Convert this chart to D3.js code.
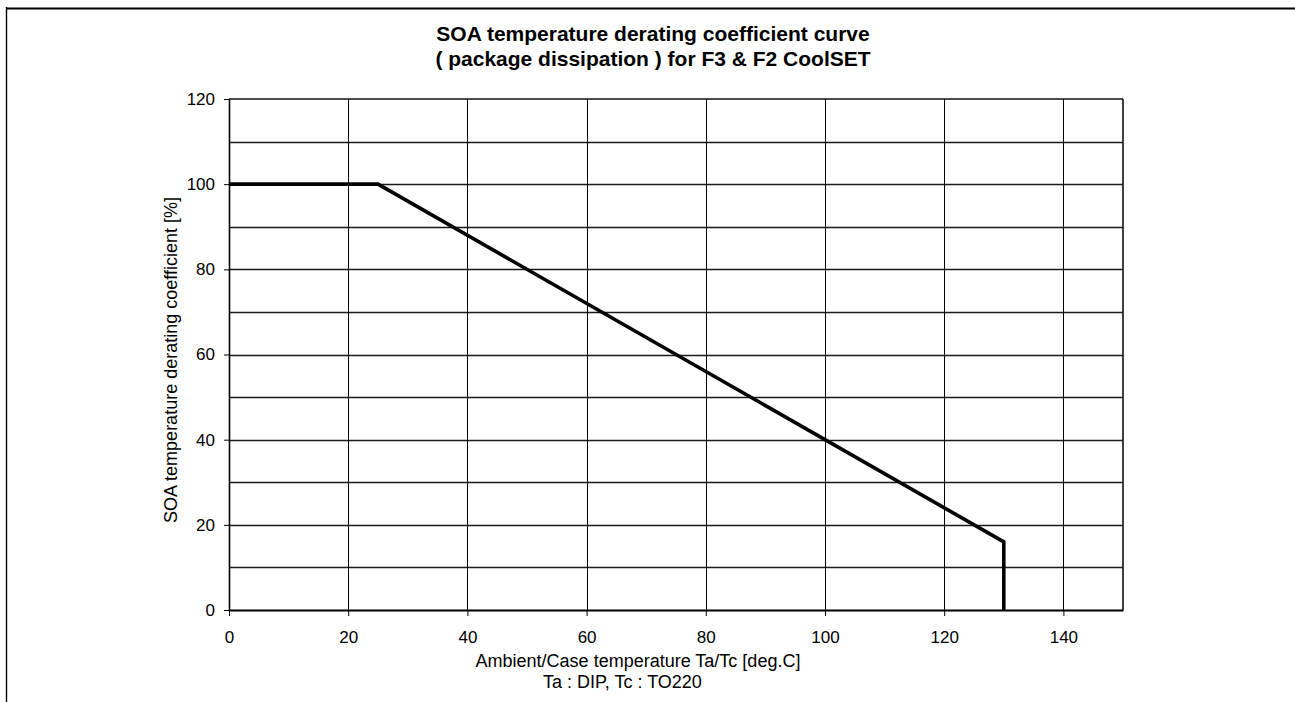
<!DOCTYPE html>
<html><head><meta charset="utf-8">
<script src="https://cdn.jsdelivr.net/npm/d3@7"></script>
<style>
body{margin:0;background:#fff}
svg{display:block}
text{font-family:Arial,"Liberation Sans",sans-serif;fill:#000}
</style>
</head><body>
<svg id="c" width="1295" height="702"></svg>
<script>
const titleLines = ["SOA temperature derating coefficient curve", "( package dissipation ) for F3 & F2 CoolSET"];
const xTitleLines = ["Ambient/Case temperature Ta/Tc [deg.C]", "Ta : DIP, Tc : TO220"];
const yTitle = "SOA temperature derating coefficient [%]";
const temperature = [0, 25, 130, 130];
const coefficient = [100, 100, 16, 0];
const xTicks = [0, 20, 40, 60, 80, 100, 120, 140];
const yTicks = [0, 20, 40, 60, 80, 100, 120];
const yGridValues = [10, 20, 30, 40, 50, 60, 70, 80, 90, 100, 110];
const xGridValues = [20, 40, 60, 80, 100, 120, 140];
const xDomain = [0, 150];
const yDomain = [0, 120];

const svg = d3.select("#c");
const L = 229, R = 1123, T = 99, B = 610;
const x = d3.scaleLinear().domain(xDomain).range([L, R]);
const y = d3.scaleLinear().domain(yDomain).range([B, T]);

// outer frame
svg.append("line").attr("x1", 6).attr("x2", 1295).attr("y1", 8.5).attr("y2", 8.5)
  .attr("stroke", "#000").attr("stroke-width", 2);
svg.append("line").attr("x1", 6.5).attr("x2", 6.5).attr("y1", 7).attr("y2", 702)
  .attr("stroke", "#000").attr("stroke-width", 1.4);

// title
svg.append("g").selectAll("text").data(titleLines).join("text")
  .attr("x", 653).attr("y", (d, i) => 41 + i * 25)
  .attr("text-anchor", "middle").attr("font-weight", "bold").attr("font-size", 21)
  .text(d => d);

// grid
svg.append("g").selectAll("line").data(yGridValues).join("line")
  .attr("x1", L).attr("x2", R).attr("y1", d => Math.round(y(d)) + 0.5).attr("y2", d => Math.round(y(d)) + 0.5)
  .attr("stroke", "#1a1a1a").attr("stroke-width", 1.4);
svg.append("g").selectAll("line").data(xGridValues).join("line")
  .attr("y1", T).attr("y2", B).attr("x1", d => Math.round(x(d)) + 0.5).attr("x2", d => Math.round(x(d)) + 0.5)
  .attr("stroke", "#000").attr("stroke-width", 1);

// plot border top / right
svg.append("line").attr("x1", L).attr("x2", R).attr("y1", T).attr("y2", T).attr("stroke", "#111").attr("stroke-width", 1.6);
svg.append("line").attr("x1", R).attr("x2", R).attr("y1", T).attr("y2", B).attr("stroke", "#111").attr("stroke-width", 1.6);

// axes
const xAxis = svg.append("g").attr("transform", `translate(0,${B})`)
  .call(d3.axisBottom(x).tickValues(xTicks).tickSize(6).tickPadding(15).tickSizeOuter(0).tickFormat(d3.format("d")));
xAxis.select(".domain").attr("stroke", "#000").attr("stroke-width", 2);
xAxis.selectAll(".tick line").attr("stroke", "#000").attr("stroke-width", 1);
xAxis.selectAll("text").attr("font-size", 17).attr("font-family", "Arial, 'Liberation Sans', sans-serif").attr("fill", "#000");

const yAxis = svg.append("g").attr("transform", `translate(${L},0)`)
  .call(d3.axisLeft(y).tickValues(yTicks).tickSize(5).tickPadding(9).tickSizeOuter(0).tickFormat(d3.format("d")));
yAxis.select(".domain").attr("stroke", "#000").attr("stroke-width", 1.6);
yAxis.selectAll(".tick line").attr("stroke", "#000").attr("stroke-width", 1);
yAxis.selectAll("text").attr("font-size", 17).attr("font-family", "Arial, 'Liberation Sans', sans-serif").attr("fill", "#000");

// curve
const pts = temperature.map((t, i) => [t, coefficient[i]]);
svg.append("path").datum(pts)
  .attr("d", d3.line().x(d => x(d[0])).y(d => y(d[1])))
  .attr("fill", "none").attr("stroke", "#000").attr("stroke-width", 3.6).attr("stroke-linejoin", "miter");

// axis titles
svg.append("text").attr("x", 638).attr("y", 667).attr("text-anchor", "middle").attr("font-size", 18).text(xTitleLines[0]);
svg.append("text").attr("x", 622.5).attr("y", 688).attr("text-anchor", "middle").attr("font-size", 18).text(xTitleLines[1]);
svg.append("text").attr("transform", "translate(177,360) rotate(-90)").attr("text-anchor", "middle").attr("font-size", 18).text(yTitle);
</script>
</body></html>
